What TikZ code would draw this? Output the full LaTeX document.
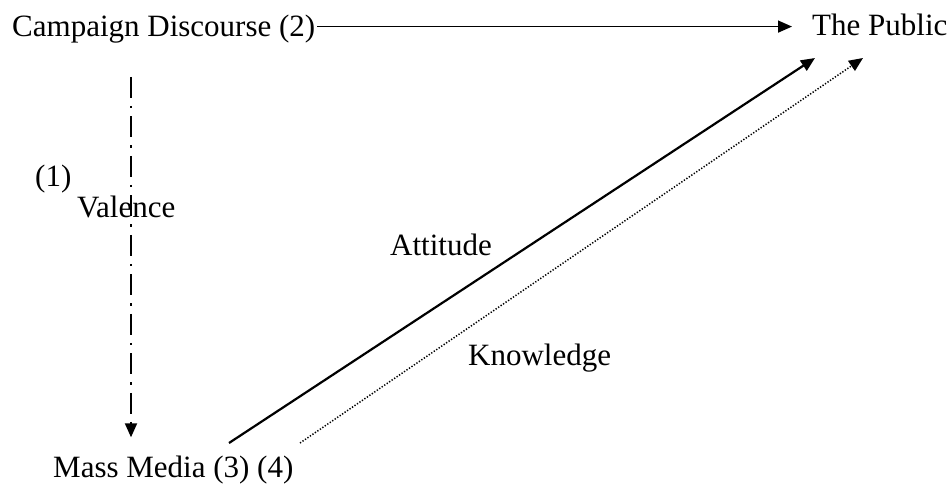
\documentclass[tikz,border=0pt]{standalone}
\usepackage{fontspec}
\setmainfont{Liberation Serif}
\usepackage{tikz}
\usetikzlibrary{arrows.meta}

\tikzset{
  lbl/.style={anchor=base west, inner sep=0pt, font=\fontsize{31}{37}\selectfont},
  tip/.style={-{Triangle[length=14pt,width=12pt]}},
  direct/.style={tip, line width=1.5pt},
  valence/.style={tip, line width=2pt, dash pattern=on 21pt off 8pt on 2.5pt off 8pt},
  attitude/.style={tip, line width=2.2pt},
  knowledge/.style={tip, line width=1.5pt, dash pattern=on 1.3pt off 1.7pt}
}

\begin{document}
\begin{tikzpicture}[x=1pt,y=-1pt]
\useasboundingbox (0,0) rectangle (949,486);
% labels
\node[lbl] (camp) at (12,37) {Campaign Discourse (2)};
\node[lbl] (pub) at (812,36) {The Public};
\node[lbl] (media) at (53,477) {Mass Media (3) (4)};
\node[lbl] (one) at (35,187) {(1)};
\node[lbl] (val) at (77,218) {Valence};
\node[lbl] (att) at (390,255) {Attitude};
\node[lbl] (know) at (468,365) {Knowledge};
% anchor points
\coordinate (vx) at (131,0);
\coordinate (a0) at (229,443);
\coordinate (a1) at (815,58);
\coordinate (k0) at (300,443);
\coordinate (k1) at (863,58);
% arrows
\draw[direct, shorten <=2pt, shorten >=20pt] ([yshift=3pt]camp.east) -- ([yshift=3pt]camp.east -| pub.west);
\draw[valence, shorten <=33pt, shorten >=18pt] (vx |- camp.south) -- (vx |- media.north);
\draw[attitude] (a0) -- (a1);
\draw[knowledge] (k0) -- (k1);
\end{tikzpicture}
\end{document}
